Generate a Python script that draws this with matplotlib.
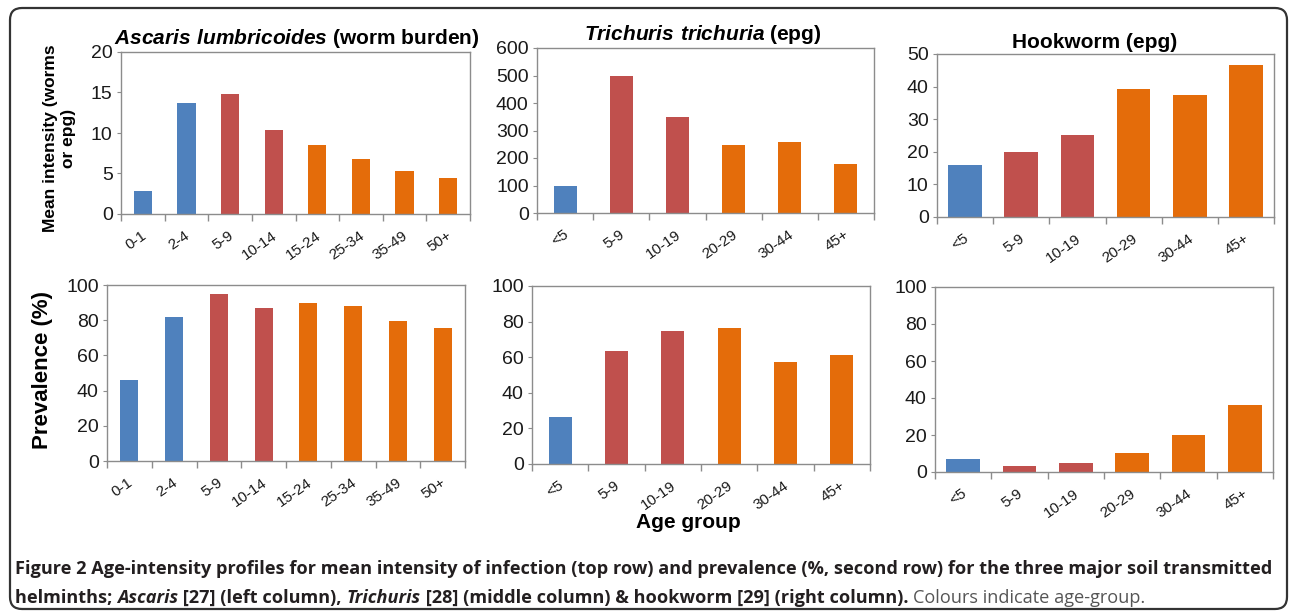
import numpy as np
import matplotlib
matplotlib.use('Agg')
import matplotlib.pyplot as plt
import matplotlib.transforms as mtransforms
from matplotlib.patches import FancyBboxPatch

plt.rcParams['font.family'] = ['Liberation Sans', 'DejaVu Sans']
plt.rcParams['mathtext.fontset'] = 'custom'
plt.rcParams['mathtext.bfit'] = 'Liberation Sans:italic:bold'
plt.rcParams['mathtext.rm'] = 'Liberation Sans'

# ── Colours by age class ───────────────────────────────────
COLOURS = {'pre': '#4F81BD', 'school': '#C0504D', 'adult': '#E46C0A'}
TXT = '#1a1a1a'
SPINE = '#8c8c8c'

# ── Data ───────────────────────────────────────────────────
ascaris_groups = ['0-1', '2-4', '5-9', '10-14', '15-24', '25-34', '35-49', '50+']
ascaris_class = ['pre', 'pre', 'school', 'school', 'adult', 'adult', 'adult', 'adult']
ascaris_intensity = [2.85, 13.7, 14.8, 10.35, 8.5, 6.8, 5.3, 4.45]
ascaris_prev = [46, 82, 95, 87, 90, 88, 79.5, 75.5]

trichuris_groups = ['<5', '5-9', '10-19', '20-29', '30-44', '45+']
trichuris_class = ['pre', 'school', 'school', 'adult', 'adult', 'adult']
trichuris_intensity = [100, 500, 350, 249, 260, 180]
trichuris_prev = [26.5, 63.5, 74.5, 76.5, 57.3, 61.2]

hook_groups = ['<5', '5-9', '10-19', '20-29', '30-44', '45+']
hook_class = ['pre', 'school', 'school', 'adult', 'adult', 'adult']
hook_intensity = [16.0, 19.8, 25.3, 39.4, 37.5, 46.7]
hook_prev = [7.2, 3.4, 4.6, 10.4, 20.1, 36.3]

W, H = 1290, 615
fig = plt.figure(figsize=(W / 100, H / 100), dpi=100, facecolor='white')
# rotated category labels sit a little below the axis line
lab_off = mtransforms.ScaledTranslation(2 / 100, -20 / 100, fig.dpi_scale_trans)


def px_rect(l, r, t, b):
    return [l / W, 1 - b / H, (r - l) / W, (b - t) / H]


def bar_panel(rect, groups, classes, values, ymax, ystep, width):
    ax = fig.add_axes(rect)
    x = np.arange(len(groups))
    ax.bar(x, values, width=width, color=[COLOURS[c] for c in classes], zorder=2)
    ax.set_xlim(-0.5, len(groups) - 0.5)
    ax.set_ylim(0, ymax)
    ax.set_yticks(np.arange(0, ymax + ystep / 2, ystep))
    ax.set_xticks([])
    ax.set_xticks(np.arange(-0.5, len(groups)), minor=True)
    ax.tick_params(axis='x', which='minor', length=5, color=SPINE, width=1)
    ax.tick_params(axis='y', length=3, color=SPINE, labelsize=14,
                   labelcolor=TXT, pad=3)
    tr = ax.get_xaxis_transform() + lab_off
    for xi, g in zip(x, groups):
        ax.text(xi, 0, g, transform=tr, rotation=35, rotation_mode='anchor',
                ha='right', va='center', fontsize=11, color=TXT)
    for sp in ax.spines.values():
        sp.set_color(SPINE)
        sp.set_linewidth(1)
    return ax


# top row – mean intensity
ax1 = bar_panel(px_rect(121, 470, 52, 214), ascaris_groups, ascaris_class,
                ascaris_intensity, 20, 5, 0.42)
ax2 = bar_panel(px_rect(537, 874, 48, 213), trichuris_groups, trichuris_class,
                trichuris_intensity, 600, 100, 0.41)
ax3 = bar_panel(px_rect(937, 1274, 54, 217), hook_groups, hook_class,
                hook_intensity, 50, 10, 0.6)
# bottom row – prevalence
ax4 = bar_panel(px_rect(107, 465, 285, 461), ascaris_groups, ascaris_class,
                ascaris_prev, 100, 20, 0.4)
ax5 = bar_panel(px_rect(532, 870, 286, 464), trichuris_groups, trichuris_class,
                trichuris_prev, 100, 20, 0.41)
ax6 = bar_panel(px_rect(935, 1273, 287, 472), hook_groups, hook_class,
                hook_prev, 100, 20, 0.6)

# titles
title_kw = dict(fontsize=15, fontweight='bold', color='black', ha='center', va='center')
fig.text(297 / W, 1 - 38 / H, r'$\mathbfit{Ascaris\ lumbricoides}$ (worm burden)', **title_kw)
fig.text(703 / W, 1 - 35 / H, r'$\mathbfit{Trichuris\ trichuria}$ (epg)', **title_kw)
fig.text(1095 / W, 1 - 42 / H, 'Hookworm (epg)', **title_kw)

# axis labels
fig.text(60 / W, 1 - 138 / H, 'Mean intensity (worms\nor epg)', rotation=90,
         fontsize=12.5, fontweight='bold', ha='center', va='center',
         linespacing=1.25, multialignment='center')
fig.text(43 / W, 1 - 370 / H, 'Prevalence (%)', rotation=90, fontsize=16,
         fontweight='bold', ha='center', va='center')
fig.text(688 / W, 1 - 522 / H, 'Age group', fontsize=15, fontweight='bold',
         ha='center', va='center')

# outer rounded frame
frame = FancyBboxPatch((0.10, 0.06), 12.77, 6.01,
                       boxstyle='round,pad=0,rounding_size=0.12',
                       transform=fig.dpi_scale_trans, fill=False,
                       edgecolor='#333333', linewidth=1.6)
fig.patches.append(frame)

# caption – pieces placed one after another
overlay = fig.add_axes([0, 0, 1, 1], zorder=-1)
overlay.axis('off')
CAP = ['Open Sans', 'DejaVu Sans']
CAP_FS = 13.1


def caption_line(x, y, pieces):
    t = None
    for s, style, weight, colour in pieces:
        kw = dict(fontsize=CAP_FS, family=CAP, style=style, weight=weight,
                  color=colour, va='bottom', ha='left')
        if t is None:
            t = overlay.text(x, y, s, transform=fig.transFigure, **kw)
        else:
            t = overlay.annotate(s, xy=(1, 0), xycoords=t, **kw)


caption_line(15 / W, 1 - 578 / H, [
    ('Figure 2 Age-intensity profiles for mean intensity of infection (top row) and '
     'prevalence (%, second row) for the three major soil transmitted',
     'normal', 'bold', '#231f20'),
])
caption_line(15 / W, 1 - 607 / H, [
    ('helminths; ', 'normal', 'bold', '#231f20'),
    ('Ascaris', 'italic', 'bold', '#231f20'),
    (' [27] (left column), ', 'normal', 'bold', '#231f20'),
    ('Trichuris', 'italic', 'bold', '#231f20'),
    (' [28] (middle column) & hookworm [29] (right column). ', 'normal', 'bold', '#231f20'),
    ('Colours indicate age-group.', 'normal', 'normal', '#555555'),
])

fig.savefig('out.png', dpi=100, facecolor='white')
